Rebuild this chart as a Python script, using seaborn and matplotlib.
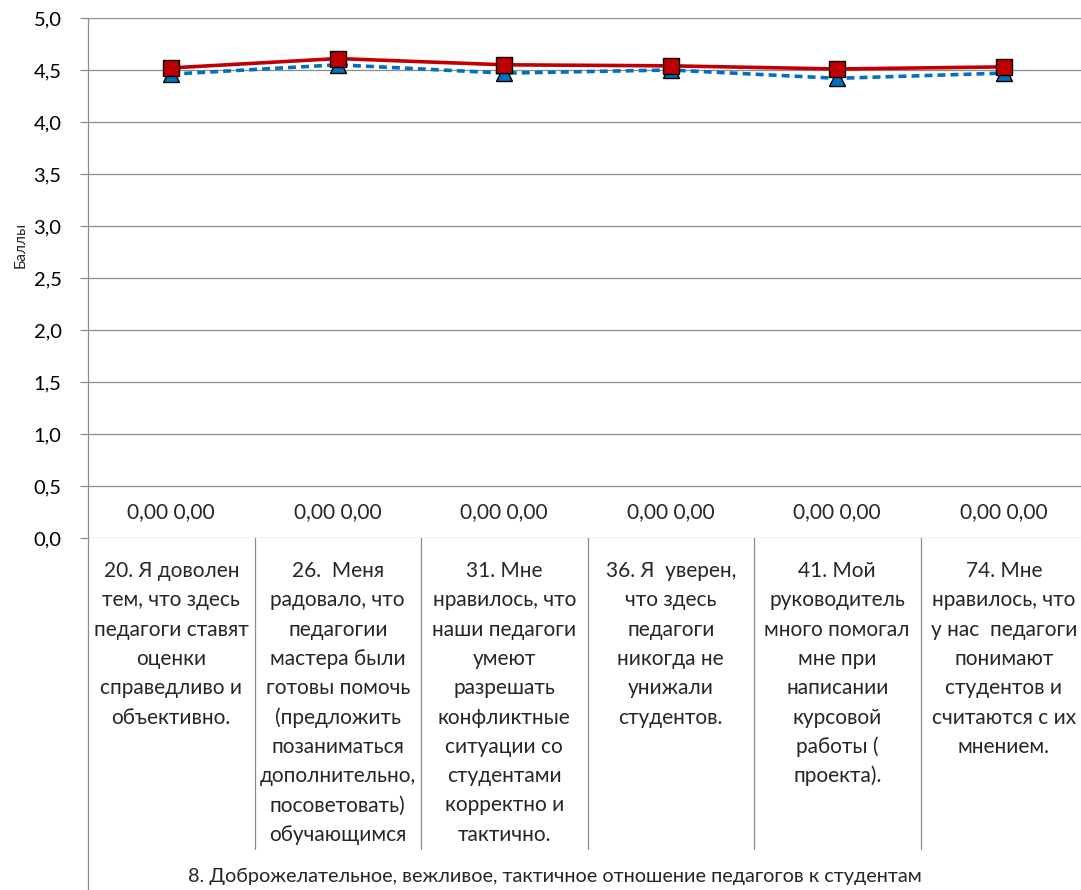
import numpy as np
import pandas as pd
import matplotlib
matplotlib.use("Agg")
import matplotlib.pyplot as plt
import matplotlib.transforms as mtransforms
from matplotlib.lines import Line2D
from matplotlib.ticker import FuncFormatter, MultipleLocator
import seaborn as sns

# data
categories = [
    "20. Я доволен\nтем, что здесь\nпедагоги ставят\nоценки\nсправедливо и\nобъективно.",
    "26.  Меня\nрадовало, что\nпедагогии\nмастера были\nготовы помочь\n(предложить\nпозаниматься\nдополнительно,\nпосоветовать)\nобучающимся",
    "31. Мне\nнравилось, что\nнаши педагоги\nумеют\nразрешать\nконфликтные\nситуации со\nстудентами\nкорректно и\nтактично.",
    "36. Я  уверен,\nчто здесь\nпедагоги\nникогда не\nунижали\nстудентов.",
    "41. Мой\nруководитель\nмного помогал\nмне при\nнаписании\nкурсовой\nработы (\nпроекта).",
    "74. Мне\nнравилось, что\nу нас  педагоги\nпонимают\nстудентов и\nсчитаются с их\nмнением.",
]
group_label = "8. Доброжелательное, вежливое, тактичное отношение педагогов к студентам"
series_blue = [4.46, 4.55, 4.47, 4.50, 4.42, 4.47]
series_red = [4.52, 4.61, 4.55, 4.54, 4.51, 4.53]
zero_a = [0.0, 0.0, 0.0, 0.0, 0.0, 0.0]
zero_b = [0.0, 0.0, 0.0, 0.0, 0.0, 0.0]

df = pd.DataFrame({"pos": range(len(categories)), "blue": series_blue, "red": series_red})

sns.set_style("white")
plt.rcParams['font.family'] = ['Lato', 'DejaVu Sans']

W, H = 1081, 890
fig = plt.figure(figsize=(W / 100, H / 100), dpi=100)
left, right, top, bottom = 88, 1081, 18, 538
ax = fig.add_axes([left / W, (H - bottom) / H, (right - left) / W, (bottom - top) / H])

grid_c = "#8c8c8c"

sns.lineplot(data=df, x="pos", y="blue", ax=ax, color="#0070C0", linewidth=2.6,
             linestyle=(0, (2.2, 1.4)), marker="^", markersize=12,
             markerfacecolor="#0070C0", markeredgecolor="black", markeredgewidth=1, zorder=3)
sns.lineplot(data=df, x="pos", y="red", ax=ax, color="#C00000", linewidth=2.6,
             marker="s", markersize=11.5, markerfacecolor="#C00000",
             markeredgecolor="black", markeredgewidth=1, zorder=4)

cat_w = 166.5
ax.set_xlim(-0.5, -0.5 + (right - left) / cat_w)
ax.set_ylim(0, 5)
ax.yaxis.set_major_locator(MultipleLocator(0.5))
ax.yaxis.set_major_formatter(FuncFormatter(lambda v, p: f"{v:.1f}".replace(".", ",")))
ax.grid(axis="y", color=grid_c, linewidth=0.9)
ax.set_axisbelow(True)
for s in ["top", "right", "bottom"]:
    ax.spines[s].set_visible(False)
ax.spines["left"].set_color(grid_c)
ax.spines["left"].set_linewidth(0.9)
ax.set_xticks([])
ax.set_xlabel("")
ax.tick_params(axis="y", left=True, length=6, width=0.9, color=grid_c, pad=13,
               labelsize=14.5, labelcolor="black")
ax.set_ylabel("Баллы", fontsize=11)
ax.yaxis.set_label_coords(-60 / (right - left), (bottom - 245) / (bottom - top))

# data labels of the zero series
for i, (a, b) in enumerate(zip(zero_a, zero_b)):
    ax.text(i, 0.25, f"{a:.2f} {b:.2f}".replace(".", ","), ha="center", va="center",
            fontsize=15)

# category table below the axis, one text per line (Excel-like line pitch)
trans = mtransforms.blended_transform_factory(ax.transData, fig.transFigure)
first_line, pitch = 571, 29.3
for i, lab in enumerate(categories):
    for k, line in enumerate(lab.split("\n")):
        ax.text(i, 1 - (first_line + k * pitch) / H, line, transform=trans,
                ha="center", va="center", fontsize=15, clip_on=False)
for i in range(len(categories) - 1):
    fig.add_artist(Line2D([i + 0.5, i + 0.5], [1 - bottom / H, 1 - 849 / H],
                          transform=trans, color=grid_c, linewidth=0.9))
fig.add_artist(Line2D([left / W, left / W], [1 - bottom / H, 0], color=grid_c, linewidth=0.9))
fig.text(555 / W, 1 - 876 / H, group_label, ha="center", va="center", fontsize=14.3)

fig.savefig("out.png", dpi=100)
